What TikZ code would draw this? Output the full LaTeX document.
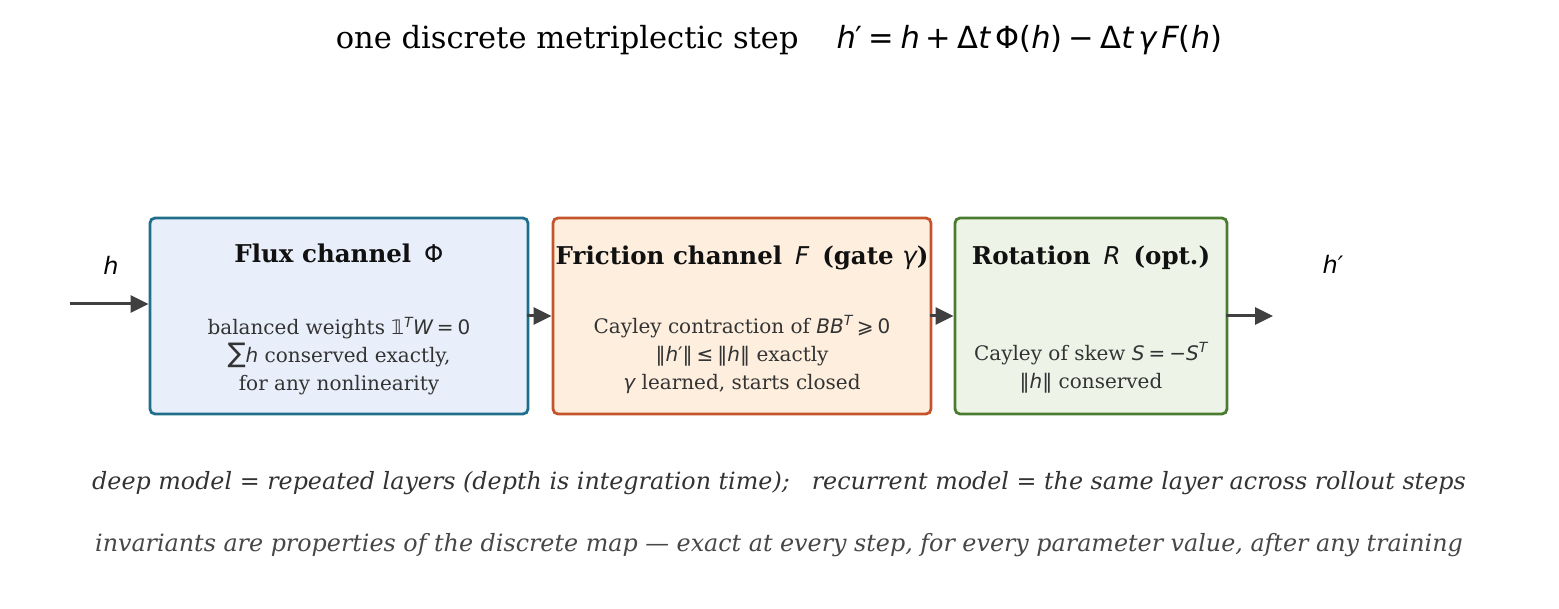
\documentclass[tikz,border=0pt]{standalone}
\usepackage{fontspec}
\setmainfont{DejaVu Serif}
\newfontfamily\mathsans{DejaVu Sans}
\usepackage{xcolor}
\usetikzlibrary{arrows.meta,calc}
\definecolor{fluxline}{HTML}{1F6F8B}
\definecolor{fluxfill}{HTML}{E8EFFA}
\definecolor{fricline}{HTML}{C4552B}
\definecolor{fricfill}{HTML}{FDEEDE}
\definecolor{rotline}{HTML}{4A7C2F}
\definecolor{rotfill}{HTML}{EEF3E8}
\definecolor{arrowgray}{HTML}{404040}
\definecolor{ink}{HTML}{111111}
\definecolor{body}{HTML}{333333}
\tikzset{
  stage/.style={draw, line width=2.8pt, rounded corners=5pt, minimum height=196pt, inner sep=0pt},
  flow/.style={-{Triangle[length=18pt,width=17pt]}, line width=3pt, draw=arrowgray},
  stagetitle/.style={font=\fontsize{24.5}{28}\selectfont\bfseries, text=ink, inner sep=0pt, text height=17pt, text depth=5pt},
  stagebody/.style={font=\fontsize{20}{28}\selectfont, text=body, align=center, inner sep=0pt, anchor=south},
  note/.style={font=\fontsize{23.8}{28}\selectfont\itshape, text=body, inner sep=0pt},
  statelabel/.style={font=\fontsize{24}{26}\selectfont\mathsans\itshape, inner sep=0pt}
}
\newcommand{\mv}[1]{{\mathsans\itshape #1}}% math variable
\newcommand{\mo}[1]{{\mathsans #1}}% upright math
\newcommand{\ms}{\hspace{0.2em}}% operator space

\begin{document}
\begin{tikzpicture}[x=1pt,y=-1pt]
  \useasboundingbox (0,0) rectangle (1559,609);
  % title
  \node[font=\fontsize{30.5}{34}\selectfont, inner sep=0pt] (title) at (779,40)
    {one discrete metriplectic step\hspace{38pt}\mv{h}\mo{′\ms=\ms}\mv{h}\mo{\ms+\ms Δ}\mv{t}\mo{\,Φ(}\mv{h}\mo{)\ms−\ms Δ}\mv{t}\mo{\,}\mv{γ\,F}\mo{(}\mv{h}\mo{)}};
  % the three stages
  \node[stage, draw=fluxline, fill=fluxfill, minimum width=378pt] (flux) at (339,316) {};
  \node[stage, draw=fricline, fill=fricfill, minimum width=378pt] (fric) at (742,316) {};
  \node[stage, draw=rotline, fill=rotfill, minimum width=272pt] (rot) at (1091,316) {};
  \node[stagetitle] (fluxtitle) at ($(flux.north)+(0,40)$) {Flux channel\hspace{13pt}\mo{\mdseries Φ}};
  \node[stagetitle] (frictitle) at ($(fric.north)+(0,42)$) {Friction channel\hspace{13pt}\mv{\mdseries F}\hspace{13pt}(gate \mv{\mdseries γ})};
  \node[stagetitle] (rottitle) at ($(rot.north)+(0,42)$) {Rotation\hspace{13pt}\mv{\mdseries R}\hspace{13pt}(opt.)};
  \node[stagebody] (fluxbody) at ($(flux.south)+(0,-20)$)
    {balanced weights \mo{𝟙}\textsuperscript{\mv{T}}\mv{W}\mo{\ms=\ms0}\\
     {\mathsans\fontsize{27}{28}\selectfont ∑}\mv{h} conserved exactly,\\
     for any nonlinearity};
  \node[stagebody] (fricbody) at ($(fric.south)+(0,-22)$)
    {Cayley contraction of \mv{BB}\textsuperscript{\mv{T}}\mo{\ms⩾\ms0}\\
     \mo{‖}\mv{h}\mo{′‖\ms≤\ms‖}\mv{h}\mo{‖} exactly\\
     \mv{γ} learned, starts closed};
  \node[stagebody] (rotbody) at ($(rot.south)+(0,-22)$)
    {Cayley of skew \mv{S}\mo{\ms=\ms−}\mv{S}\textsuperscript{\mv{T}}\\
     \mo{‖}\mv{h}\mo{‖} conserved};
  % state in and out
  \coordinate (hin) at (70,304);
  \coordinate (hout) at (1273,316);
  \node[statelabel] (hlabel) at (111,265) {h};
  \node[statelabel] (houtlabel) at (1333,264) {h′};
  \draw[flow] (hin) -- (hin -| flux.west);
  \draw[flow] ($(flux.east)+(-2,0)$) -- (fric.west);
  \draw[flow] ($(fric.east)+(-2,0)$) -- (rot.west);
  \draw[flow] ($(rot.east)+(-2,0)$) -- (hout);
  % notes
  \node[note] (depthnote) at (779,483)
    {deep model = repeated layers (depth is integration time);\hspace{22pt}recurrent model = the same layer across rollout steps};
  \node[note, text=body!90!white] (invnote) at (779,545)
    {invariants are properties of the discrete map — exact at every step, for every parameter value, after any training};
\end{tikzpicture}
\end{document}
